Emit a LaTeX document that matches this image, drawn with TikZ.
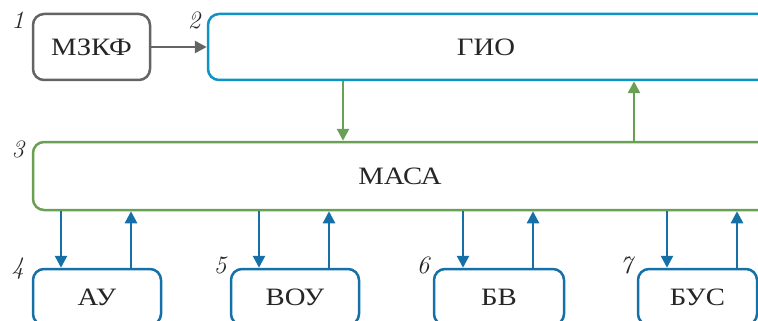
\documentclass[tikz,border=0pt]{standalone}
\usepackage{fontspec}
\newfontfamily\cyr[FakeStretch=1.15]{Liberation Serif}
\usetikzlibrary{arrows.meta}
\definecolor{cgray}{RGB}{100,100,100}
\definecolor{cblue}{RGB}{14,147,196}
\definecolor{cdblue}{RGB}{22,112,168}
\definecolor{cgreen}{RGB}{106,160,84}
\tikzset{
  box/.style={draw, line width=2.5pt, rounded corners=11pt, fill=white, inner sep=0pt,
    font=\cyr\fontsize{25}{30}\selectfont, text=black!85},
  num/.style={font=\itshape\fontsize{25}{30}\selectfont, text=black!85, inner sep=0pt},
  conn/.style={line width=2.6pt, -{Triangle[length=12pt,width=12pt]}},
}
\begin{document}
\begin{tikzpicture}[x=1pt,y=-1pt]
\useasboundingbox (0,0) rectangle (758,321);
\clip (0,0) rectangle (758,321);
\node[box, draw=cgray, minimum width=117, minimum height=66] (mzkf) at (91.5,47) {МЗКФ};
\node[box, draw=cblue, minimum width=580, minimum height=66] (gio) at (498,47) {ГИО\hspace*{24pt}};
\node[box, draw=cgreen, minimum width=760, minimum height=68] (masa) at (413,176) {МАСА\hspace*{26pt}};
\node[box, draw=cdblue, minimum width=128, minimum height=56] (au) at (97,297) {АУ};
\node[box, draw=cdblue, minimum width=128, minimum height=56] (vou) at (295,297) {ВОУ};
\node[box, draw=cdblue, minimum width=130, minimum height=56] (bv) at (499,297) {БВ};
\node[box, draw=cdblue, minimum width=119, minimum height=56] (bus) at (697.5,297) {БУС};
\node[num] (n1) at (18,20) {1};
\node[num] (n2) at (194,20) {2};
\node[num] (n3) at (18,149) {3};
\node[num] (n4) at (18,269) {4};
\node[num] (n5) at (220,265) {5};
\node[num] (n6) at (423,265) {6};
\node[num] (n7) at (626,265) {7};
\draw[conn, cgray] (mzkf.east) -- (gio.west);
\draw[conn, cgreen] (gio.south -| 343,0) -- (masa.north -| 343,0);
\draw[conn, cgreen] (masa.north -| 634,0) -- (gio.south -| 634,0);
\draw[conn, cdblue] (masa.south -| 61,0) -- (au.north -| 61,0);
\draw[conn, cdblue] (au.north -| 131,0) -- (masa.south -| 131,0);
\draw[conn, cdblue] (masa.south -| 259,0) -- (vou.north -| 259,0);
\draw[conn, cdblue] (vou.north -| 329,0) -- (masa.south -| 329,0);
\draw[conn, cdblue] (masa.south -| 463,0) -- (bv.north -| 463,0);
\draw[conn, cdblue] (bv.north -| 533,0) -- (masa.south -| 533,0);
\draw[conn, cdblue] (masa.south -| 667,0) -- (bus.north -| 667,0);
\draw[conn, cdblue] (bus.north -| 737,0) -- (masa.south -| 737,0);
\end{tikzpicture}
\end{document}
